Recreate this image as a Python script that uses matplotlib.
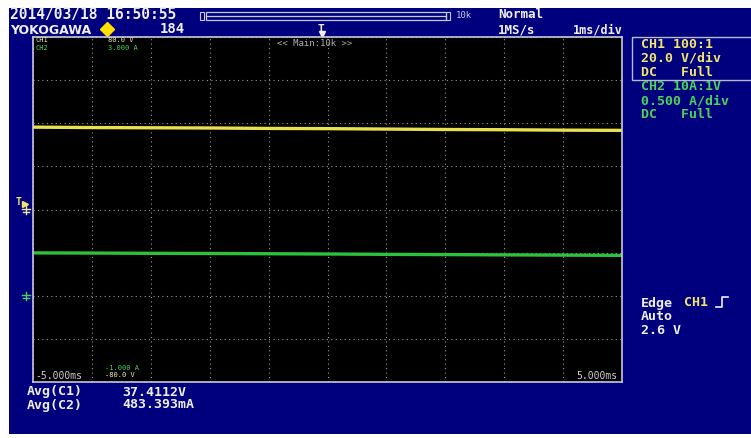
import numpy as np
import matplotlib
matplotlib.use('Agg')
import matplotlib.pyplot as plt
from matplotlib.patches import Rectangle

W, H = 751, 438

# time base (ms) and averaged trace readings
t_ms = [-5, -4, -3, -2, -1, 0, 1, 2, 3, 4, 5]
ch1_volts = [38.2, 38.0, 37.9, 37.8, 37.6, 37.5, 37.3, 37.1, 37.0, 36.8, 36.7]
ch2_amps = [0.497, 0.495, 0.492, 0.490, 0.487, 0.484, 0.480, 0.477, 0.474, 0.471, 0.468]

CH1_VDIV, CH1_OFFSET = 20.0, 0.0      # 20 V/div, centre = 0 V
CH2_ADIV, CH2_OFFSET = 0.5, 1.0       # 0.5 A/div, centre = 1 A

NAVY = '#00007e'
YEL = '#e8e050'
YEL_TXT = '#f2e66a'
GRN = '#2cc23a'
GRN_TXT = '#4ad458'
WHITE = '#f0f0f0'
MONO = 'DejaVu Sans Mono'


def px(x, y):
    return x / W, 1 - y / H


def label(x, y, s, color=WHITE, size=10, weight='bold', family=MONO, **kw):
    fig.text(*px(x, y), s, color=color, fontsize=size, family=family,
             weight=weight, va='center', ha=kw.pop('ha', 'left'), **kw)


fig = plt.figure(figsize=(W / 100, H / 100), dpi=100, facecolor='white')

# navy screen background
bg = fig.add_axes([0, 0, 1, 1])
bg.set_xlim(0, W)
bg.set_ylim(H, 0)
bg.axis('off')
bg.add_patch(Rectangle((9, 8), W - 9, 426, color=NAVY, lw=0))

# record-length bar
bg.add_patch(Rectangle((206, 12), 240, 8, fill=False, ec='#c8c8e0', lw=0.9))
bg.plot([206, 446], [16, 16], color='#c8c8e0', lw=0.9)
bg.add_patch(Rectangle((200, 12), 4, 8, fill=False, ec='#c8c8e0', lw=0.8))
bg.add_patch(Rectangle((446, 12), 4, 8, fill=False, ec='#c8c8e0', lw=0.8))

# right settings box
bg.add_patch(Rectangle((632, 37), 125, 43, fill=False, ec='#b8b8d0', lw=1))

# header
label(10, 14, '2014/03/18 16:50:55', size=10.5)
label(10, 30, 'YOKOGAWA', size=9, family='DejaVu Sans')
bg.plot([107], [29], marker='D', ms=7, color='#ffe000', mec='#ffe000')
label(160, 29, '184', size=10)
label(456, 16, '10k', color='#c8c8e0', size=6.5, weight='normal')
label(498, 14, 'Normal', size=9)
label(498, 30, '1MS/s', size=9)
label(573, 30, '1ms/div', size=8.5)
label(321, 29, 'T', size=8, ha='center')
bg.plot([322], [34], marker='v', ms=4, color=WHITE)

# right panel
for y, s, c in [(44, 'CH1 100:1', YEL_TXT), (58, '20.0 V/div', YEL_TXT),
                (72, 'DC   Full', YEL_TXT), (87, 'CH2 10A:1V', GRN_TXT),
                (101, '0.500 A/div', GRN_TXT), (115, 'DC   Full', GRN_TXT)]:
    label(641, y, s, color=c, size=9.5)
label(641, 303, 'Edge', size=9.5)
label(684, 303, 'CH1', color=YEL_TXT, size=9.5)
bg.plot([716, 722, 722, 728], [307, 307, 297, 297], color=WHITE, lw=1.2)
label(641, 317, 'Auto', size=9.5)
label(641, 331, '2.6 V', size=9.5)

# measurements
label(27, 392, 'Avg(C1)', size=9.5)
label(122, 392, '37.4112V', size=9.5)
label(27, 405, 'Avg(C2)', size=9.5)
label(122, 405, '483.393mA', size=9.5)

# level / ground markers on the left edge
label(19, 202, 'T', color=YEL_TXT, size=7, ha='center')
bg.plot([25], [204], marker='>', ms=4, color=YEL_TXT)
for gy, gc in [(211, '#f0e8a0'), (297, GRN_TXT)]:
    bg.plot([22, 30], [gy - 2, gy - 2], color=gc, lw=1)
    bg.plot([23, 29], [gy + 1, gy + 1], color=gc, lw=1)
    bg.plot([26, 26], [gy - 5, gy + 3], color=gc, lw=1)

# graticule
ax = fig.add_axes([33 / W, 1 - 382 / H, 589 / W, 345 / H])
ax.set_facecolor('black')
ax.set_xlim(-5, 5)
ax.set_ylim(-4, 4)
ax.set_xticks(np.arange(-5, 6, 1))
ax.set_yticks(np.arange(-4, 5, 1))
ax.tick_params(length=0, labelbottom=False, labelleft=False)
ax.grid(True, color='#9a9a9a', lw=0.8, ls=(0, (1, 3)))
for s in ax.spines.values():
    s.set_color('#c8c8dc')
    s.set_linewidth(1.2)

y1 = (np.array(ch1_volts) - CH1_OFFSET) / CH1_VDIV
y2 = (np.array(ch2_amps) - CH2_OFFSET) / CH2_ADIV
ax.plot(t_ms, y1, color=YEL, lw=2.4, solid_capstyle='butt')
ax.plot(t_ms, y2, color=GRN, lw=2.4, solid_capstyle='butt')

# on-screen scale labels
small = 5
label(36, 40.5, 'CH1', color='#f4eeb0', size=small, weight='normal')
label(36, 48, 'CH2', color=GRN_TXT, size=small, weight='normal')
label(108, 40.5, '80.0 V', color='#f4eeb0', size=small, weight='normal')
label(108, 48, '3.000 A', color=GRN_TXT, size=small, weight='normal')
label(277, 43, '<< Main:10k >>', color='#b0b0b0', size=6.5, weight='normal')
label(105, 367.5, '-1.000 A', color=GRN_TXT, size=small, weight='normal')
label(105, 375, '-80.0 V', color='#f4eeb0', size=small, weight='normal')
label(35, 376, '-5.000ms', color='#d0d0d0', size=7, weight='normal')
label(617, 376, '5.000ms', color='#d0d0d0', size=7, weight='normal', ha='right')

fig.savefig('out.png', dpi=100, facecolor='white')
